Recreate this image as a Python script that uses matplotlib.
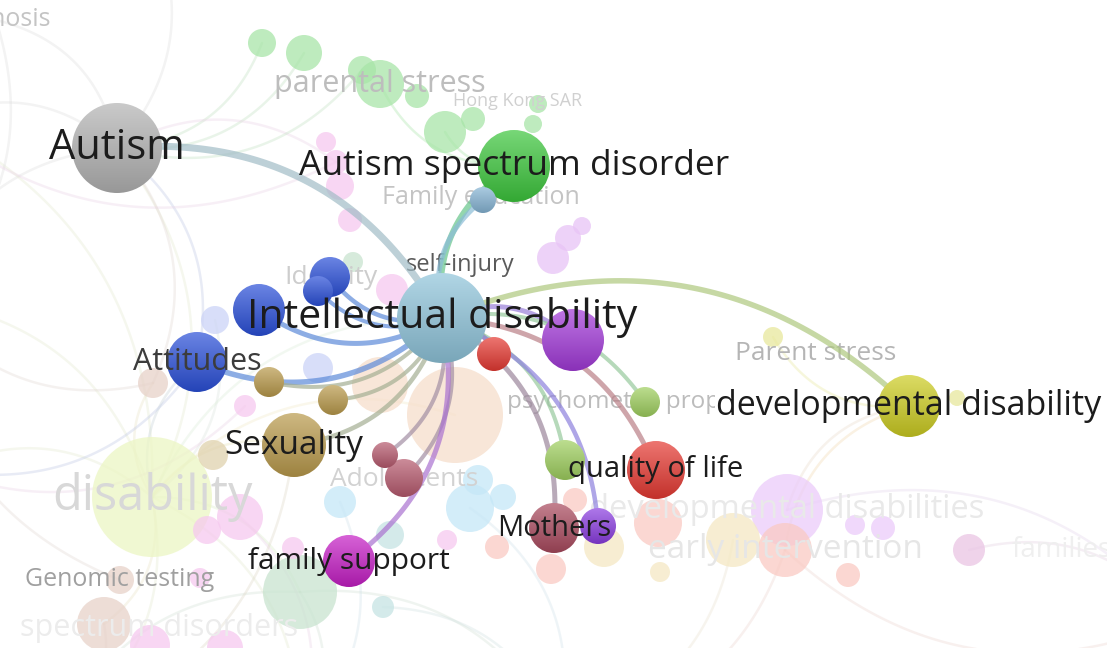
import numpy as np
import matplotlib
matplotlib.use("Agg")
import matplotlib.pyplot as plt
from matplotlib.colors import to_rgb
from matplotlib.patches import Circle, Rectangle

plt.rcParams["font.family"] = ["Open Sans", "DejaVu Sans"]

# highlighted items (map coordinates, node weight, cluster)
act_names = ["Autism", "Autism spectrum disorder", "", "Intellectual disability", "", "",
             "", "", "", "Attitudes", "", "", "Sexuality", "", "",
             "psychometric properties", "", "quality of life", "Mothers", "", "family support",
             "developmental disability"]
act_x = [117, 514, 483, 442, 494, 573, 330, 318, 259, 197, 269, 333, 294, 385, 404,
         645, 565, 656, 554, 598, 349, 909]
act_y = [148, 166, 200, 318, 354, 340, 277, 291, 310, 362, 382, 400, 445, 455, 478,
         402, 460, 470, 528, 526, 561, 406]
act_w = [45, 36, 13, 45, 17, 31, 20, 15, 26, 30, 15, 15, 32, 13, 19,
         15, 20, 29, 25, 18, 26, 31]
act_cluster = ["gray", "green", "steel", "lblue", "red", "purple", "blue", "blue", "blue",
               "blue", "tan", "tan", "tan", "maroon", "maroon", "lime", "lime", "red",
               "rose", "violet2", "magenta", "yellow"]

# links of "Intellectual disability" (index 3) plus Autism link
link_src = [0, 3, 3, 3, 3, 3, 3, 3, 3, 3, 3, 3, 3, 3, 3, 3, 3, 3, 3, 3, 3]
link_dst = [3, 1, 2, 4, 5, 6, 7, 8, 9, 10, 11, 12, 13, 14, 15, 16, 17, 18, 19, 20, 21]
link_w = [7, 6, 5, 5, 5, 4.5, 4, 5, 5.5, 4, 4, 4.5, 4, 4, 4, 4, 5, 5, 4.5, 5, 5.5]

# faded items
fad_names = ["", "", "", "parental stress", "", "", "", "", "", "Hong Kong SAR",
             "Family education", "", "", "", "", "", "", "", "", "Identity",
             "self-injury", "", "", "", "", "", "", "", "", "disability",
             "", "", "", "", "", "", "", "", "", "",
             "", "", "", "", "Genomic testing", "", "spectrum disorders", "", "", "",
             "", "", "", "", "early intervention", "", "developmental disabilities", "", "", "",
             "families", "Parent stress", "", "", "diagnosis", "Adolescents", "", "", "", "",
             "", "", "", ""]
fad_x = [262, 304, 362, 380, 417, 445, 473, 538, 533, 518,
         481, 326, 336, 340, 350, 392, 553, 568, 582, 331,
         460, 215, 318, 353, 245, 153, 213, 455, 380, 152,
         240, 207, 293, 200, 447, 150, 225, 340, 470, 478,
         503, 383, 390, 300, 120, 104, 159, 497, 551, 575,
         604, 660, 733, 658, 785, 848, 787, 855, 883, 969,
         1062, 816, 773, 957, -4, 404, -70, -80, -60, 150,
         60, 300, 560, 1180]
fad_y = [43, 53, 70, 84, 96, 132, 119, 104, 124, 101,
         197, 142, 162, 186, 220, 290, 258, 238, 226, 277,
         265, 320, 368, 262, 406, 383, 455, 415, 385, 497,
         517, 530, 548, 578, 540, 645, 648, 502, 508, 480,
         497, 607, 535, 592, 580, 624, 628, 547, 569, 500,
         547, 572, 540, 523, 550, 575, 510, 525, 528, 550,
         550, 353, 337, 398, 20, 480, 120, 300, 470, -80,
         730, 740, 730, 620]
fad_w = [14, 18, 14, 24, 12, 21, 12, 9, 9, 0,
         9, 10, 12, 14, 12, 16, 16, 13, 9, 0,
         0, 14, 15, 10, 11, 15, 15, 48, 28, 60,
         23, 14, 11, 10, 10, 20, 18, 16, 24, 15,
         13, 11, 14, 37, 14, 27, 0, 12, 15, 12,
         20, 10, 27, 24, 27, 12, 36, 10, 12, 16,
         0, 0, 10, 8, 0, 0, 0, 0, 0, 0,
         0, 0, 0, 0]
fad_cluster = (["green"] * 11 + ["pink"] * 5 + ["violet"] * 3
               + ["blue", "lblue", "paleblue", "paleblue", "sage", "pink", "brown", "tan",
                  "peach", "peach", "lime2"]
               + ["pink"] * 7 + ["cyan"] * 4
               + ["teal", "teal", "sage", "brown", "brown", "pink", "salmon", "salmon",
                  "salmon", "cream", "cream", "cream", "salmon", "salmon", "salmon",
                  "lavender", "lavender", "lavender", "orchid", "orchid", "yellow",
                  "yellow", "yellow", "gray", "maroon"]
               + ["gray"] * 8)

# background links, indices into active + faded (faded start at 22)
bg_src = [88, 89, 0, 91, 22, 23, 0, 0, 0, 88, 89, 90, 51, 51, 51, 51, 51, 51, 43, 51, 51, 51,
          65, 65, 92, 63, 60, 67, 66, 46, 76, 95, 76, 78, 78, 21, 81, 74, 1, 1, 24, 86, 86,
          59, 52, 12, 9, 47, 34]
bg_dst = [0, 0, 51, 0, 0, 0, 34, 9, 47, 51, 51, 51, 92, 93, 9, 12, 67, 65, 51, 47, 3, 49,
          93, 94, 65, 94, 94, 92, 89, 90, 21, 76, 94, 21, 95, 84, 95, 94, 25, 27, 0, 89, 0,
          93, 93, 92, 90, 89, 88]

label_size = {"Autism": 30, "Autism spectrum disorder": 25.5, "Intellectual disability": 29.5,
              "Attitudes": 22, "Sexuality": 24, "psychometric properties": 17.5,
              "quality of life": 21, "Mothers": 21, "family support": 21.5,
              "developmental disability": 24.5, "parental stress": 22, "Hong Kong SAR": 13,
              "Family education": 18, "Identity": 19, "self-injury": 17, "disability": 35,
              "Genomic testing": 18, "spectrum disorders": 22, "early intervention": 24,
              "developmental disabilities": 23.5, "families": 20, "Parent stress": 19,
              "diagnosis": 18, "Adolescents": 19}
label_tone = {"Attitudes": "#3c3c3c", "self-injury": "#5a5a5a", "Genomic testing": "#a0a0a0",
              "parental stress": "#bdbdbd", "Parent stress": "#b5b5b5",
              "Family education": "#c4c4c4", "psychometric properties": "#bcbcbc",
              "Identity": "#cdcdcd", "Adolescents": "#d2d2d2", "Hong Kong SAR": "#d0d0d0",
              "disability": "#d8d8d8", "diagnosis": "#c4c4c4", "spectrum disorders": "#ececec",
              "early intervention": "#e6e6e6", "developmental disabilities": "#e9e9e9",
              "families": "#efefef"}

palette = {"gray": "#b3b3b3", "green": "#3dc63d", "steel": "#86b4d4", "lblue": "#8fc4da",
           "red": "#e53a33", "purple": "#a23ad8", "blue": "#2b50d8", "tan": "#b99a4c",
           "maroon": "#b65a6e", "rose": "#a94a5e", "lime": "#9fcf5f", "violet2": "#8b3ee0",
           "magenta": "#c51fc5", "yellow": "#cccc22", "pink": "#ec86dc", "violet": "#cc7cec",
           "paleblue": "#8ea0ee", "sage": "#86c496", "teal": "#80c4c4", "cyan": "#7ecaee",
           "peach": "#ebb58c", "lime2": "#d4ea7c", "brown": "#c99a88", "salmon": "#f48a7a",
           "cream": "#e8cc7a", "lavender": "#d28ef4", "orchid": "#d07ec4"}


def mix(c1, c2, t):
    a = np.array(to_rgb(c1))
    b = np.array(to_rgb(c2))
    return tuple(a * (1 - t) + b * t)


def curve(x0, y0, x1, y1, bend=0.32, n=80):
    cx = (x0 + x1) / 2 + bend * (y1 - y0)
    cy = (y0 + y1) / 2 - bend * (x1 - x0)
    t = np.linspace(0, 1, n)
    xs = (1 - t) ** 2 * x0 + 2 * (1 - t) * t * cx + t ** 2 * x1
    ys = (1 - t) ** 2 * y0 + 2 * (1 - t) * t * cy + t ** 2 * y1
    return xs, ys


def sphere(ax, x, y, r, color, z):
    top = np.array(mix(color, "white", 0.3))
    bot = np.array(mix(color, "black", 0.15))
    g = np.linspace(0, 1, 64)[:, None, None]
    img = top * (1 - g) + bot * g
    im = ax.imshow(img, extent=(x - r, x + r, y + r, y - r), interpolation="bilinear",
                   aspect="auto", zorder=z)
    im.set_clip_path(Circle((x, y), r, transform=ax.transData))


names = act_names + fad_names
xs_all = act_x + fad_x
ys_all = act_y + fad_y
cols = [palette[c] for c in act_cluster + fad_cluster]

fig = plt.figure(figsize=(11.07, 6.48), dpi=100)
ax = fig.add_axes([0, 0, 1, 1])
ax.axis("off")

# background links
for s, d in zip(bg_src, bg_dst):
    c = mix(mix(cols[s], cols[d], 0.5), "white", 0.55)
    px, py = curve(xs_all[s], ys_all[s], xs_all[d], ys_all[d])
    ax.plot(px, py, color=c, lw=1.8, alpha=0.35, solid_capstyle="round", zorder=1)

# faded nodes
order = sorted(range(len(fad_names)), key=lambda i: -fad_w[i])
for i in order:
    if fad_w[i] > 0:
        ax.add_patch(Circle((fad_x[i], fad_y[i]), fad_w[i],
                            color=mix(palette[fad_cluster[i]], "white", 0.55),
                            alpha=0.75, lw=0, zorder=2))

# faded labels
for i, name in enumerate(fad_names + [act_names[15]]):
    if not name:
        continue
    if name == "psychometric properties":
        x, y = act_x[15], act_y[15]
    else:
        x, y = fad_x[i], fad_y[i]
    t = ax.text(x, y, name, ha="center", va="center", fontsize=label_size[name],
                color=label_tone[name], zorder=3, clip_on=True)
    if name == "psychometric properties":
        t.set_clip_path(Rectangle((0, 0), 715, 648, transform=ax.transData))

# highlighted links
for s, d, w in zip(link_src, link_dst, link_w):
    c = mix(cols[s], cols[d], 0.5)
    px, py = curve(act_x[s], act_y[s], act_x[d], act_y[d])
    ax.plot(px, py, color=c, lw=w * 0.72, alpha=0.7, solid_capstyle="round", zorder=4)

# highlighted nodes
for i in sorted(range(len(act_names)), key=lambda i: -act_w[i]):
    sphere(ax, act_x[i], act_y[i], act_w[i], palette[act_cluster[i]], 5)

# highlighted labels
for i, name in enumerate(act_names):
    if not name or name == "psychometric properties":
        continue
    ax.text(act_x[i], act_y[i], name, ha="center", va="center", fontsize=label_size[name],
            color=label_tone.get(name, "#1c1c1c"), zorder=6)

ax.set_xlim(0, 1107)
ax.set_ylim(648, 0)
fig.savefig("out.png", dpi=100, facecolor="white")
